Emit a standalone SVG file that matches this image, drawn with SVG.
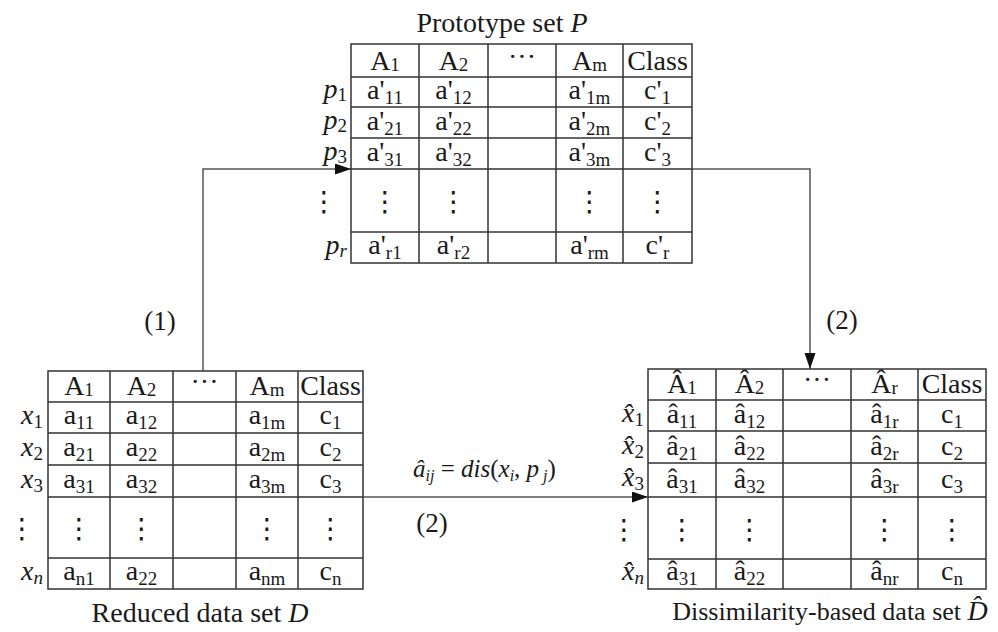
<svg xmlns="http://www.w3.org/2000/svg" width="998" height="632" viewBox="0 0 998 632">
<defs>
<marker id="ah" markerUnits="userSpaceOnUse" markerWidth="17" markerHeight="12" refX="16" refY="5.5" orient="auto">
<path d="M0,0 L16,5.5 L0,11 z" fill="#111"/>
</marker>
<style>
text{font-family:"Liberation Serif","Times New Roman",serif;font-size:28px;fill:#1a1a1a}
.c{text-anchor:middle}
.r{text-anchor:end}
.i{font-style:italic}
.sb{font-size:19px}
.dots{font-family:"DejaVu Sans",sans-serif;font-size:28px;text-anchor:middle}
.grid{stroke:#333;stroke-width:1.5;fill:none}
.conn{stroke:#555;stroke-width:1.5;fill:none}
.lbl{font-size:27px}
.math{font-size:25px}
.msub{font-size:16px;font-style:italic}
</style>
</defs>

<g id="connectors">
<path class="conn" d="M203,371 V169 H351" marker-end="url(#ah)"/>
<path class="conn" d="M692,169 H810 V369" marker-end="url(#ah)"/>
<path class="conn" d="M363,497 H648" marker-end="url(#ah)"/>
<text class="lbl c" x="160" y="330">(1)</text>
<text class="lbl c" x="842" y="329">(2)</text>
<text class="lbl c" x="432" y="532">(2)</text>
<text class="math" x="413" y="477"><tspan class="i">â</tspan><tspan class="msub" dy="4">ij</tspan><tspan dy="-4"> = </tspan><tspan class="i">dis</tspan>(<tspan class="i">x</tspan><tspan class="msub" dy="4">i</tspan><tspan dy="-4">, </tspan><tspan class="i">p</tspan><tspan class="msub" dy="4"> j</tspan><tspan dy="-4">)</tspan></text>
</g>

<g id="prototype-set">
<text class="c" x="502" y="32">Prototype set <tspan class="i">P</tspan></text>
<path class="grid" d="M351,44 H692 V263 H351 Z M419,44 V263 M488,44 V263 M556,44 V263 M623,44 V263 M351,77 H692 M351,107 H692 M351,138 H692 M351,169 H692 M351,232 H692"/>
<text class="c" x="385" y="70">A<tspan class="sb" dy="1">1</tspan></text>
<text class="c" x="453.5" y="70">A<tspan class="sb" dy="1">2</tspan></text>
<text class="c" x="522" y="66">···</text>
<text class="c" x="589.5" y="70">A<tspan class="sb" dy="1">m</tspan></text>
<text class="c" x="657.5" y="70">Class</text>
<text class="r" x="347" y="98"><tspan class="i">p</tspan><tspan class="sb" dy="3">1</tspan></text>
<text class="r" x="347" y="129"><tspan class="i">p</tspan><tspan class="sb" dy="3">2</tspan></text>
<text class="r" x="347" y="160"><tspan class="i">p</tspan><tspan class="sb" dy="3">3</tspan></text>
<text class="r" x="347" y="254"><tspan class="i">p</tspan><tspan class="sb i" dy="3">r</tspan></text>
<text class="c" x="385" y="99">a'<tspan class="sb" dy="5">11</tspan></text>
<text class="c" x="453.5" y="99">a'<tspan class="sb" dy="5">12</tspan></text>
<text class="c" x="589.5" y="99">a'<tspan class="sb" dy="5">1m</tspan></text>
<text class="c" x="657.5" y="99">c'<tspan class="sb" dy="5">1</tspan></text>
<text class="c" x="385" y="130">a'<tspan class="sb" dy="5">21</tspan></text>
<text class="c" x="453.5" y="130">a'<tspan class="sb" dy="5">22</tspan></text>
<text class="c" x="589.5" y="130">a'<tspan class="sb" dy="5">2m</tspan></text>
<text class="c" x="657.5" y="130">c'<tspan class="sb" dy="5">2</tspan></text>
<text class="c" x="385" y="161">a'<tspan class="sb" dy="5">31</tspan></text>
<text class="c" x="453.5" y="161">a'<tspan class="sb" dy="5">32</tspan></text>
<text class="c" x="589.5" y="161">a'<tspan class="sb" dy="5">3m</tspan></text>
<text class="c" x="657.5" y="161">c'<tspan class="sb" dy="5">3</tspan></text>
<text class="dots" x="324" y="211">⋮</text>
<text class="dots" x="385" y="211">⋮</text>
<text class="dots" x="453.5" y="211">⋮</text>
<text class="dots" x="589.5" y="211">⋮</text>
<text class="dots" x="657.5" y="211">⋮</text>
<text class="c" x="385" y="254">a'<tspan class="sb" dy="5">r1</tspan></text>
<text class="c" x="453.5" y="254">a'<tspan class="sb" dy="5">r2</tspan></text>
<text class="c" x="589.5" y="254">a'<tspan class="sb" dy="5">rm</tspan></text>
<text class="c" x="657.5" y="254">c'<tspan class="sb" dy="5">r</tspan></text>
</g>

<g id="reduced-data-set">
<text class="c" x="200" y="622">Reduced data set <tspan class="i">D</tspan></text>
<path class="grid" d="M48,371 H363 V589 H48 Z M110,371 V589 M173,371 V589 M236,371 V589 M298,371 V589 M48,402 H363 M48,433 H363 M48,465 H363 M48,497 H363 M48,558 H363"/>
<text class="c" x="79" y="395">A<tspan class="sb" dy="1">1</tspan></text>
<text class="c" x="141.5" y="395">A<tspan class="sb" dy="1">2</tspan></text>
<text class="c" x="204.5" y="391">···</text>
<text class="c" x="267" y="395">A<tspan class="sb" dy="1">m</tspan></text>
<text class="c" x="330.5" y="395">Class</text>
<text class="r" x="43" y="424"><tspan class="i">x</tspan><tspan class="sb" dy="4">1</tspan></text>
<text class="r" x="43" y="456"><tspan class="i">x</tspan><tspan class="sb" dy="4">2</tspan></text>
<text class="r" x="43" y="488"><tspan class="i">x</tspan><tspan class="sb" dy="4">3</tspan></text>
<text class="r" x="43" y="580"><tspan class="i">x</tspan><tspan class="sb i" dy="4">n</tspan></text>
<text class="c" x="79" y="424">a<tspan class="sb" dy="5">11</tspan></text>
<text class="c" x="141.5" y="424">a<tspan class="sb" dy="5">12</tspan></text>
<text class="c" x="267" y="424">a<tspan class="sb" dy="5">1m</tspan></text>
<text class="c" x="330.5" y="424">c<tspan class="sb" dy="5">1</tspan></text>
<text class="c" x="79" y="456">a<tspan class="sb" dy="5">21</tspan></text>
<text class="c" x="141.5" y="456">a<tspan class="sb" dy="5">22</tspan></text>
<text class="c" x="267" y="456">a<tspan class="sb" dy="5">2m</tspan></text>
<text class="c" x="330.5" y="456">c<tspan class="sb" dy="5">2</tspan></text>
<text class="c" x="79" y="488">a<tspan class="sb" dy="5">31</tspan></text>
<text class="c" x="141.5" y="488">a<tspan class="sb" dy="5">32</tspan></text>
<text class="c" x="267" y="488">a<tspan class="sb" dy="5">3m</tspan></text>
<text class="c" x="330.5" y="488">c<tspan class="sb" dy="5">3</tspan></text>
<text class="dots" x="22" y="538">⋮</text>
<text class="dots" x="79" y="538">⋮</text>
<text class="dots" x="141.5" y="538">⋮</text>
<text class="dots" x="267" y="538">⋮</text>
<text class="dots" x="330.5" y="538">⋮</text>
<text class="c" x="79" y="580">a<tspan class="sb" dy="5">n1</tspan></text>
<text class="c" x="141.5" y="580">a<tspan class="sb" dy="5">22</tspan></text>
<text class="c" x="267" y="580">a<tspan class="sb" dy="5">nm</tspan></text>
<text class="c" x="330.5" y="580">c<tspan class="sb" dy="5">n</tspan></text>
</g>

<g id="dissimilarity-data-set">
<text class="c" x="830" y="620" style="font-size:26px">Dissimilarity-based data set <tspan class="i" style="font-size:28px">D̂</tspan></text>
<path class="grid" d="M648,369 H986 V589 H648 Z M716,369 V589 M783,369 V589 M851,369 V589 M918,369 V589 M648,400 H986 M648,431 H986 M648,463 H986 M648,497 H986 M648,559 H986"/>
<text class="c" x="682" y="393">Â<tspan class="sb" dy="1">1</tspan></text>
<text class="c" x="749.5" y="393">Â<tspan class="sb" dy="1">2</tspan></text>
<text class="c" x="817" y="389">···</text>
<text class="c" x="884.5" y="393">Â<tspan class="sb" dy="1">r</tspan></text>
<text class="c" x="952" y="393">Class</text>
<text class="r" x="644" y="422"><tspan class="i">x̂</tspan><tspan class="sb" dy="4">1</tspan></text>
<text class="r" x="644" y="454"><tspan class="i">x̂</tspan><tspan class="sb" dy="4">2</tspan></text>
<text class="r" x="644" y="486"><tspan class="i">x̂</tspan><tspan class="sb" dy="4">3</tspan></text>
<text class="r" x="644" y="580"><tspan class="i">x̂</tspan><tspan class="sb i" dy="4">n</tspan></text>
<text class="c" x="682" y="423">â<tspan class="sb" dy="5">11</tspan></text>
<text class="c" x="749.5" y="423">â<tspan class="sb" dy="5">12</tspan></text>
<text class="c" x="884.5" y="423">â<tspan class="sb" dy="5">1r</tspan></text>
<text class="c" x="952" y="423">c<tspan class="sb" dy="5">1</tspan></text>
<text class="c" x="682" y="455">â<tspan class="sb" dy="5">21</tspan></text>
<text class="c" x="749.5" y="455">â<tspan class="sb" dy="5">22</tspan></text>
<text class="c" x="884.5" y="455">â<tspan class="sb" dy="5">2r</tspan></text>
<text class="c" x="952" y="455">c<tspan class="sb" dy="5">2</tspan></text>
<text class="c" x="682" y="488">â<tspan class="sb" dy="5">31</tspan></text>
<text class="c" x="749.5" y="488">â<tspan class="sb" dy="5">32</tspan></text>
<text class="c" x="884.5" y="488">â<tspan class="sb" dy="5">3r</tspan></text>
<text class="c" x="952" y="488">c<tspan class="sb" dy="5">3</tspan></text>
<text class="dots" x="624" y="539">⋮</text>
<text class="dots" x="682" y="539">⋮</text>
<text class="dots" x="749.5" y="539">⋮</text>
<text class="dots" x="884.5" y="539">⋮</text>
<text class="dots" x="952" y="539">⋮</text>
<text class="c" x="682" y="580">â<tspan class="sb" dy="5">31</tspan></text>
<text class="c" x="749.5" y="580">â<tspan class="sb" dy="5">22</tspan></text>
<text class="c" x="884.5" y="580">â<tspan class="sb" dy="5">nr</tspan></text>
<text class="c" x="952" y="580">c<tspan class="sb" dy="5">n</tspan></text>
</g>
</svg>
